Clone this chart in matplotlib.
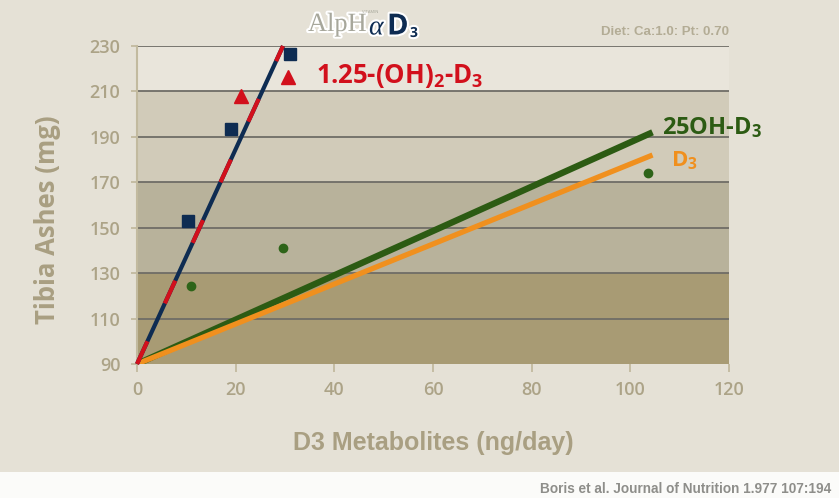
"""
Tibia ash vs. D3 metabolite dose (Boris et al. 1977), redrawn with matplotlib.
"""

import matplotlib
matplotlib.use("Agg")
import matplotlib.pyplot as plt
import matplotlib.patheffects as pe

# --- data ---
band_edges = [90, 130, 170, 210, 230]
band_colors = ["#a89b74", "#b8b29b", "#d1cbb9", "#e9e5db"]
y_ticks = [90, 110, 130, 150, 170, 190, 210, 230]
x_ticks = [0, 20, 40, 60, 80, 100, 120]

# fitted lines (start at 90 mg with no supplement)
calcitriol_line_x = [0, 29.6]
calcitriol_line_y = [90, 230]
ohd3_line_x = [0, 104.5]
ohd3_line_y = [90, 192]
d3_line_x = [0, 104.5]
d3_line_y = [90, 182]

# measured points
square_x = [10.3, 19.1, 31.0]
square_y = [153, 193.5, 226.5]
triangle_x = [21.1, 30.6]
triangle_y = [208, 216.5]
dot_x = [10.9, 29.6, 103.6]
dot_y = [124.5, 141, 174]

BG = "#e5e1d6"
TAN = "#aca387"
NAVY = "#0e2c52"
RED = "#d2101c"
GREEN = "#2c5b13"
ORANGE = "#f0901e"

plt.rcParams["font.family"] = ["Open Sans", "DejaVu Sans"]
plt.rcParams["mathtext.fontset"] = "custom"

fig = plt.figure(figsize=(8.39, 4.98), dpi=100)
fig.patch.set_facecolor(BG)

# white strip for the citation at the bottom
fig.patches.append(plt.Rectangle((0, 0), 1, 26 / 498, transform=fig.transFigure,
                                 facecolor="#fbfbf9", edgecolor="none", zorder=0))

ax = fig.add_axes([137 / 839, 1 - 364 / 498, 592 / 839, 318 / 498])
ax.set_facecolor(BG)
ax.set_xlim(0, 120)
ax.set_ylim(90, 230)

for lo, hi, c in zip(band_edges[:-1], band_edges[1:], band_colors):
    ax.axhspan(lo, hi, color=c, lw=0, zorder=0)
for yv in y_ticks[1:]:
    ax.axhline(yv, color="#6f6d66", lw=1.3, zorder=1)

ax.plot(ohd3_line_x, ohd3_line_y, color=GREEN, lw=4.6, solid_capstyle="butt", zorder=3)
ax.plot(d3_line_x, d3_line_y, color=ORANGE, lw=3.8, solid_capstyle="butt", zorder=4)
ax.plot(calcitriol_line_x, calcitriol_line_y, color=NAVY, lw=3.0,
        solid_capstyle="butt", zorder=5, clip_on=False)
ax.plot(calcitriol_line_x, calcitriol_line_y, color=RED, lw=3.0, zorder=6,
        dashes=(6, 10), dash_capstyle="butt", clip_on=False)

ax.plot(square_x, square_y, "s", color=NAVY, ms=8.5, zorder=7, clip_on=False)
ax.plot(triangle_x, triangle_y, "^", color=RED, ms=9.5, zorder=7, clip_on=False)
ax.plot(dot_x, dot_y, "o", color="#2e6419", ms=6, zorder=7, clip_on=False)

for s in ["top", "right", "bottom"]:
    ax.spines[s].set_visible(False)
ax.spines["left"].set_color("#c2ba9f")
ax.spines["left"].set_linewidth(1.5)

ax.set_xticks(x_ticks)
ax.set_yticks(y_ticks)
ax.tick_params(axis="x", direction="out", length=6, width=1.3, color="#c2ba9f",
               labelsize=13, labelcolor=TAN, pad=6)
ax.tick_params(axis="y", direction="out", length=4, width=1.3, color="#c2ba9f",
               labelsize=13, labelcolor=TAN, pad=8)
for lab in ax.get_xticklabels() + ax.get_yticklabels():
    lab.set_fontweight("semibold")

# series labels
ax.text(36.3, 217, r"1.25-(OH)$\mathregular{_2}$-D$\mathregular{_3}$", color=RED,
        fontsize=18.5, fontweight="bold", va="center", ha="left", clip_on=False)
ax.text(106.5, 194, r"25OH-D$\mathregular{_3}$", color=GREEN, fontsize=17,
        fontweight="bold", va="center", ha="left", clip_on=False)
ax.text(108.3, 179.5, r"D$\mathregular{_3}$", color=ORANGE, fontsize=16,
        fontweight="bold", va="center", ha="left", clip_on=False)

# axis titles
fig.text(48 / 839, 1 - 220 / 498, "Tibia Ashes (mg)", rotation=90, color="#a99f82",
         fontsize=18.5, fontweight="bold", ha="center", va="center")
fig.text(433 / 839, 1 - 443 / 498, "D3 Metabolites (ng/day)", color="#a99f82",
         fontsize=18, fontweight="bold", ha="center", va="center",
         family=["Liberation Sans", "DejaVu Sans"])

# header notes
fig.text(729 / 839, 1 - 32 / 498, "Diet: Ca:1.0: Pt: 0.70", color="#b3ac95",
         fontsize=9.5, fontweight="bold", ha="right", va="center",
         family=["Liberation Sans", "DejaVu Sans"])
fig.text(831 / 839, 1 - 489 / 498, "Boris et al. Journal of Nutrition 1.977 107:194",
         color="#8e8e8a", fontsize=9.8, fontweight="bold", ha="right", va="center",
         family=["Liberation Sans", "DejaVu Sans"])

# logo
glow = [pe.withStroke(linewidth=3, foreground="white")]
fig.text(308 / 839, 1 - 25 / 498, "AlpH", color="#a7a79b", fontsize=19,
         ha="left", va="center", family=["Liberation Serif", "DejaVu Serif"],
         path_effects=glow)
fig.text(369 / 839, 1 - 28 / 498, "α", color=NAVY, fontsize=20, style="italic",
         ha="left", va="center", family=["Liberation Serif", "DejaVu Serif"],
         path_effects=glow)
fig.text(387 / 839, 1 - 27 / 498, "D", color=NAVY, fontsize=21, fontweight="bold",
         ha="left", va="center", path_effects=glow)
fig.text(410 / 839, 1 - 33 / 498, "3", color=NAVY, fontsize=10, fontweight="bold",
         ha="left", va="center", path_effects=glow)
fig.text(370 / 839, 1 - 12 / 498, "VITAMIN", color="#a7a79b", fontsize=3,
         ha="center", va="center")

fig.savefig("out.png", dpi=100, facecolor=fig.get_facecolor())
